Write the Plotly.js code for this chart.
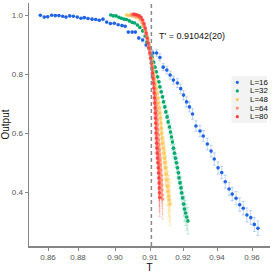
<!DOCTYPE html>
<html>
<head>
<meta charset="utf-8">
<script src="https://cdn.plot.ly/plotly-3.0.1.min.js"></script>
<style>html,body{margin:0;padding:0;background:#fff;}#chart{width:273px;height:273px;}</style>
</head>
<body>
<div id="chart"></div>
<script>
// ---------------- data ----------------
const SERIES_NAMES = ['L=16', 'L=32', 'L=48', 'L=64', 'L=80'];

const T_L16 = [0.8549,0.8575,0.8598,0.8625,0.8649,0.8673,0.8698,0.8720,0.8745,0.8769,0.8795,0.8816,0.8834,0.8854,0.8876,0.8896,0.8915,0.8935,0.8955,0.8975,0.8996,0.9009,0.9020,0.9029,0.9038,0.9049,0.9058,0.9068,0.9079,0.9089,0.9099,0.9109,0.9120,0.9130,0.9140,0.9151,0.9161,0.9171,0.9183,0.9193,0.9203,0.9221,0.9238,0.9256,0.9276,0.9300,0.9319,0.9343,0.9365,0.9384,0.9406,0.9427,0.9447,0.9469,0.9487,0.9509,0.9530,0.9550,0.9571,0.9593,0.9613,0.9634];
const Y_L16 = [1.001,0.995,0.996,1.001,1.000,1.000,0.998,0.995,0.999,0.998,0.995,0.991,0.993,0.990,0.988,0.987,0.984,0.988,0.978,0.973,0.974,0.969,0.966,0.964,0.944,0.944,0.944,0.924,0.917,0.900,0.890,0.873,0.873,0.858,0.825,0.815,0.798,0.781,0.771,0.752,0.730,0.707,0.690,0.666,0.625,0.608,0.591,0.564,0.540,0.513,0.483,0.467,0.436,0.411,0.394,0.380,0.358,0.346,0.323,0.314,0.291,0.278];
const E_L16 = [0.002,0.002,0.002,0.002,0.002,0.002,0.002,0.002,0.002,0.002,0.002,0.002,0.002,0.002,0.002,0.002,0.002,0.002,0.002,0.002,0.002,0.002,0.002,0.002,0.002,0.002,0.002,0.005,0.006,0.007,0.008,0.010,0.011,0.012,0.012,0.013,0.014,0.014,0.015,0.016,0.016,0.017,0.017,0.018,0.018,0.019,0.019,0.020,0.020,0.021,0.021,0.021,0.022,0.022,0.022,0.023,0.023,0.023,0.024,0.024,0.024,0.025];

const T_L32 = [0.8977,0.8991,0.9003,0.9011,0.9018,0.9026,0.9033,0.9041,0.9049,0.9056,0.9064,0.9071,0.9079,0.9086,0.9091,0.9097,0.9102,0.9106,0.9111,0.9115,0.9119,0.9123,0.9127,0.9130,0.9134,0.9138,0.9141,0.9145,0.9148,0.9152,0.9155,0.9159,0.9162,0.9165,0.9168,0.9171,0.9174,0.9177,0.9180,0.9183,0.9186,0.9188,0.9191,0.9194,0.9196,0.9199,0.9204,0.9209,0.9215,0.9222,0.9229];
const Y_L32 = [1.002,0.999,0.999,0.994,0.991,0.988,0.987,0.982,0.977,0.975,0.968,0.960,0.948,0.931,0.910,0.890,0.873,0.859,0.842,0.825,0.809,0.792,0.775,0.758,0.741,0.724,0.707,0.690,0.673,0.656,0.639,0.622,0.605,0.588,0.571,0.550,0.533,0.516,0.500,0.483,0.466,0.449,0.432,0.415,0.398,0.381,0.360,0.343,0.330,0.316,0.303];
const E_L32 = [0.002,0.002,0.002,0.002,0.002,0.002,0.002,0.003,0.003,0.003,0.004,0.004,0.005,0.006,0.007,0.008,0.009,0.010,0.011,0.012,0.014,0.015,0.016,0.017,0.018,0.019,0.021,0.022,0.023,0.024,0.025,0.026,0.027,0.028,0.029,0.030,0.031,0.032,0.033,0.034,0.035,0.036,0.037,0.038,0.039,0.040,0.041,0.042,0.043,0.044,0.045];

const T_L48 = [0.9033,0.9039,0.9044,0.9050,0.9056,0.9061,0.9067,0.9072,0.9077,0.9081,0.9086,0.9089,0.9093,0.9096,0.9099,0.9102,0.9104,0.9106,0.9108,0.9111,0.9113,0.9116,0.9119,0.9121,0.9124,0.9126,0.9128,0.9130,0.9132,0.9133,0.9134,0.9135,0.9137,0.9138,0.9140,0.9142,0.9144,0.9145,0.9147,0.9149,0.9151,0.9153,0.9155,0.9157,0.9159,0.9161];
const Y_L48 = [1.002,1.000,1.003,0.999,0.997,0.995,0.992,0.985,0.975,0.965,0.951,0.938,0.924,0.907,0.890,0.873,0.856,0.839,0.822,0.805,0.788,0.771,0.754,0.737,0.720,0.703,0.686,0.669,0.652,0.635,0.618,0.601,0.584,0.567,0.550,0.533,0.516,0.500,0.483,0.462,0.442,0.421,0.404,0.387,0.374,0.360];
const E_L48 = [0.002,0.002,0.002,0.002,0.002,0.002,0.002,0.002,0.003,0.004,0.005,0.006,0.008,0.010,0.012,0.014,0.016,0.018,0.020,0.022,0.024,0.026,0.028,0.030,0.032,0.034,0.036,0.038,0.040,0.042,0.044,0.046,0.048,0.050,0.052,0.054,0.056,0.058,0.060,0.062,0.064,0.066,0.068,0.070,0.072,0.074];

const T_L64 = [0.90471,0.90529,0.90586,0.90643,0.90700,0.90749,0.90794,0.90834,0.90871,0.90903,0.90931,0.90960,0.90986,0.91009,0.91033,0.91055,0.91076,0.91094,0.91112,0.91130,0.91145,0.91161,0.91173,0.91185,0.91197,0.91209,0.91218,0.91227,0.91236,0.91245,0.91255,0.91267,0.91279,0.91291,0.91303,0.91315,0.91327,0.91336,0.91345,0.91355,0.91364,0.91373,0.91382];
const Y_L64 = [1.002,1.001,0.999,0.997,0.994,0.987,0.977,0.965,0.951,0.934,0.917,0.900,0.883,0.866,0.849,0.832,0.815,0.798,0.781,0.764,0.747,0.730,0.713,0.696,0.679,0.663,0.646,0.629,0.612,0.595,0.578,0.561,0.544,0.527,0.510,0.493,0.476,0.459,0.442,0.425,0.408,0.391,0.377];
const E_L64 = [0.002,0.002,0.002,0.002,0.002,0.002,0.004,0.006,0.008,0.010,0.012,0.014,0.016,0.018,0.020,0.022,0.024,0.026,0.028,0.030,0.032,0.034,0.036,0.037,0.039,0.040,0.042,0.044,0.045,0.047,0.048,0.050,0.052,0.053,0.055,0.056,0.058,0.060,0.061,0.063,0.064,0.066,0.068];

const T_L80 = [0.90529,0.90586,0.90643,0.90694,0.90743,0.90791,0.90829,0.90863,0.90891,0.90920,0.90949,0.90971,0.90994,0.91018,0.91039,0.91058,0.91073,0.91088,0.91103,0.91115,0.91124,0.91133,0.91142,0.91152,0.91158,0.91164,0.91170,0.91176,0.91182,0.91191,0.91200,0.91209,0.91218,0.91230,0.91242,0.91255,0.91264,0.91270,0.91276,0.91282,0.91288,0.91294];
const Y_L80 = [1.005,1.004,1.002,0.999,0.994,0.985,0.972,0.958,0.941,0.924,0.907,0.890,0.873,0.856,0.839,0.822,0.805,0.788,0.771,0.754,0.737,0.720,0.703,0.686,0.669,0.652,0.635,0.618,0.601,0.584,0.567,0.550,0.533,0.516,0.500,0.483,0.466,0.449,0.432,0.415,0.398,0.382];
const E_L80 = [0.002,0.002,0.002,0.002,0.002,0.002,0.004,0.006,0.008,0.010,0.012,0.014,0.016,0.018,0.020,0.022,0.024,0.026,0.028,0.030,0.032,0.033,0.035,0.037,0.038,0.040,0.042,0.043,0.045,0.047,0.048,0.050,0.052,0.053,0.055,0.056,0.058,0.059,0.061,0.062,0.064,0.065];

const T_CRIT = 0.91042;
const T_CRIT_LABEL = "T' = 0.91042(20)";

const X_TICKS = [0.86, 0.88, 0.90, 0.91, 0.92, 0.94, 0.96];
const X_TICK_LABELS = ['0.86', '0.88', '0.90', '0.91', '0.92', '0.94', '0.96'];
const Y_TICKS = [0.4, 0.6, 0.8, 1.0];
const Y_TICK_LABELS = ['0.4', '0.6', '0.8', '1.0'];

// ---------------- styles / scale ----------------
const COLORS = ['#1f63e6', '#00a86d', '#ffc85a', '#ff8f72', '#ff3d3d'];
const ERR_COLORS = ['rgba(31,99,230,0.28)', 'rgba(0,168,109,0.22)', 'rgba(255,200,90,0.35)', 'rgba(255,143,114,0.3)', 'rgba(255,61,61,0.25)'];

// stretched (non-linear) temperature axis: piecewise-linear scale in pixel units
const SCALE_T = [0.86, 0.88, 0.90, 0.91, 0.92, 0.94, 0.96];
const SCALE_U = [48, 78, 115, 150, 183, 217, 252];
function xScale(t) {
  let i = 0;
  if (t >= SCALE_T[SCALE_T.length - 1]) i = SCALE_T.length - 2;
  else if (t > SCALE_T[0]) { while (t > SCALE_T[i + 1]) i++; }
  const s = (SCALE_U[i + 1] - SCALE_U[i]) / (SCALE_T[i + 1] - SCALE_T[i]);
  return SCALE_U[i] + (t - SCALE_T[i]) * s;
}

const DATA_T = [T_L16, T_L32, T_L48, T_L64, T_L80];
const DATA_Y = [Y_L16, Y_L32, Y_L48, Y_L64, Y_L80];
const DATA_E = [E_L16, E_L32, E_L48, E_L64, E_L80];

const traces = SERIES_NAMES.map((name, k) => ({
  type: 'scatter', mode: 'markers', name: name,
  x: DATA_T[k].map(xScale), y: DATA_Y[k],
  marker: {color: COLORS[k], size: 3.6, opacity: k >= 2 ? 0.9 : 1},
  error_y: {type: 'data', array: DATA_E[k], visible: true, color: ERR_COLORS[k], thickness: 1, width: 1.5},
  hoverinfo: 'skip'
}));

// plot geometry (px) for manual legend
const M = {l: 29, r: 3, t: 3, b: 27};
const W = 273, H = 273;
const PW = W - M.l - M.r, PH = H - M.t - M.b;
const px2x = p => (p - M.l) / PW;
const px2y = p => (H - M.b - p) / PH;

const shapes = [{
  type: 'line', xref: 'x', yref: 'paper', x0: xScale(T_CRIT), x1: xScale(T_CRIT), y0: 0, y1: 1,
  line: {color: '#8a8a8a', width: 1.5, dash: '4px,3px'}
}, {
  type: 'rect', xref: 'paper', yref: 'paper', x0: px2x(231.5), x1: px2x(267), y0: px2y(123), y1: px2y(76),
  fillcolor: '#f3f3f3', line: {width: 0}, layer: 'below'
}];
const annotations = [{
  xref: 'paper', yref: 'paper', x: px2x(156.5), y: px2y(36), xanchor: 'left', yanchor: 'middle',
  text: T_CRIT_LABEL, showarrow: false, font: {size: 9, color: '#111'}
}];
const LEG_ROWS = [82.3, 90.9, 99.5, 108.1, 116.7];
SERIES_NAMES.forEach((name, k) => {
  const cx = 237.3, cy = LEG_ROWS[k], r = 1.6;
  shapes.push({type: 'circle', xref: 'paper', yref: 'paper', x0: px2x(cx - r), x1: px2x(cx + r), y0: px2y(cy + r), y1: px2y(cy - r),
    fillcolor: COLORS[k], line: {width: 0}});
  annotations.push({xref: 'paper', yref: 'paper', x: px2x(247.5), y: px2y(cy), xanchor: 'left', yanchor: 'middle',
    text: name, showarrow: false, font: {size: 8, color: '#111'}});
});

const layout = {
  width: W, height: H, margin: M,
  paper_bgcolor: '#fff', plot_bgcolor: '#fff', showlegend: false,
  font: {family: 'Liberation Sans, Arial, sans-serif', size: 8, color: '#555'},
  xaxis: {range: [29, 270], tickmode: 'array', tickvals: X_TICKS.map(xScale), ticktext: X_TICK_LABELS,
    showgrid: false, zeroline: false, showline: true, linecolor: '#858585', linewidth: 1.5,
    ticks: 'outside', ticklen: 3, tickwidth: 1, tickcolor: '#858585', tickfont: {size: 8, color: '#555'},
    title: {text: 'T', font: {size: 10.5, color: '#111'}, standoff: 1}},
  yaxis: {range: [0.2177, 1.0428], tickmode: 'array', tickvals: Y_TICKS, ticktext: Y_TICK_LABELS,
    showgrid: false, zeroline: false, showline: true, linecolor: '#858585', linewidth: 1.5,
    ticks: 'outside', ticklen: 3, tickwidth: 1, tickcolor: '#858585', tickfont: {size: 8, color: '#555'},
    title: {text: 'Output', font: {size: 10, color: '#111'}, standoff: 2}},
  shapes: shapes, annotations: annotations
};

Plotly.newPlot('chart', traces, layout, {staticPlot: true, displayModeBar: false});
</script>
</body>
</html>
